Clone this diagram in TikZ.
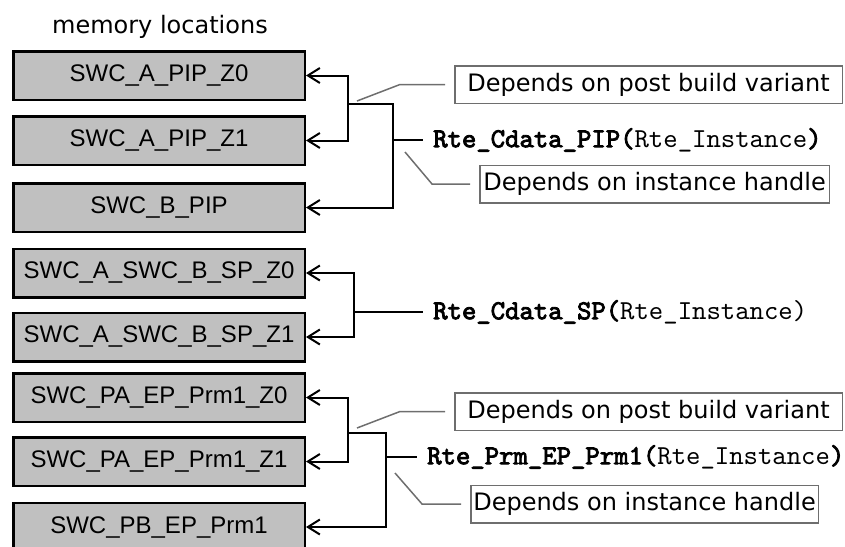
\documentclass[tikz,border=0pt]{standalone}
\usepackage{fontspec}
\setmainfont{Liberation Sans}
\newfontfamily\verd{DejaVu Sans}
\newfontfamily\cmono{lmmono10-regular.otf}
\newfontfamily\cmonobf{lmmono10-regular.otf}[FakeBold=3]
\usetikzlibrary{arrows.meta}
\definecolor{memgray}{RGB}{192,192,192}
\definecolor{notegray}{RGB}{110,110,110}
\begin{document}
\begin{tikzpicture}[x=1pt,y=-1pt,
  mem/.style={draw=black, line width=2.5pt, fill=memgray, minimum width=291.5pt, minimum height=48.5pt, inner sep=0pt, font=\fontsize{24}{28}\selectfont},
  conn/.style={line width=2pt, line cap=rect},
  arr/.style={line width=2pt, -{Straight Barb[length=12pt,width=15pt]}},
  note/.style={draw=notegray, line width=1.5pt, minimum height=37.5pt, inner sep=0pt, font=\verd\fontsize{24}{28}\selectfont},
  callout/.style={draw=notegray, line width=1.5pt, shorten >=9pt},
  code/.style={anchor=west, inner xsep=11pt, inner ysep=0pt, font=\cmono\fontsize{27.4}{30}\selectfont}
]
\useasboundingbox (0,0) rectangle (845,546);
\clip (0,0) rectangle (845,546);

% title
\node[font=\verd\fontsize{24}{28}\selectfont, anchor=base, inner sep=0pt] (title) at (160,33) {memory locations};

% memory boxes
\node[mem] (b1) at (159,75.5) {SWC\_A\_PIP\_Z0};
\node[mem] (b2) at (159,140.5) {SWC\_A\_PIP\_Z1};
\node[mem] (b3) at (159,207.5) {SWC\_B\_PIP};
\node[mem] (b4) at (159,273) {SWC\_A\_SWC\_B\_SP\_Z0};
\node[mem] (b5) at (159,337) {SWC\_A\_SWC\_B\_SP\_Z1};
\node[mem] (b6) at (159,397.5) {SWC\_PA\_EP\_Prm1\_Z0};
\node[mem] (b7) at (159,461.5) {SWC\_PA\_EP\_Prm1\_Z1};
\node[mem] (b8) at (159,527) {SWC\_PB\_EP\_Prm1};

% function calls
\node[code] (f1) at (422,140) {{\cmonobf Rte\_Cdata\_PIP(}Rte\_Instance{\cmonobf )}};
\node[code] (f2) at (422,312) {{\cmonobf Rte\_Cdata\_SP(}Rte\_Instance)};
\node[code] (f3) at (416,457) {{\cmonobf Rte\_Prm\_EP\_Prm1(}Rte\_Instance{\cmonobf )}};

% notes
\node[note, minimum width=387.5pt] (n1a) at (648.5,84.5) {Depends on post build variant};
\node[note, minimum width=349.5pt] (n1b) at (654.5,184) {Depends on instance handle};
\node[note, minimum width=387.5pt] (n3a) at (648.5,411.5) {Depends on post build variant};
\node[note, minimum width=347.5pt] (n3b) at (644.5,504) {Depends on instance handle};

% junction coordinates
\coordinate (d1) at (348,104);
\coordinate (c1) at (393,104);
\coordinate (d2) at (354,312);
\coordinate (d3) at (348,433);
\coordinate (c3) at (386,433);

% group 1
\draw[conn] (d1) -- (c1);
\draw[conn] (c1 |- f1.west) -- (f1.west);
\draw[arr] (d1) |- (b1);
\draw[arr] (d1) |- (b2);
\draw[arr] (c1) |- (b3);

% group 2
\draw[conn] (d2) -- (f2.west);
\draw[arr] (d2) |- (b4);
\draw[arr] (d2) |- (b5);

% group 3
\draw[conn] (d3) -- (c3);
\draw[conn] (c3 |- f3.west) -- (f3.west);
\draw[arr] (d3) |- (b6);
\draw[arr] (d3) |- (b7);
\draw[arr] (c3) |- (b8);

% callout lines
\coordinate (g1a) at (357,101);
\coordinate (g1b) at (400,84.5);
\coordinate (g1c) at (405,152);
\coordinate (g1d) at (432,184);
\coordinate (g3a) at (357,428);
\coordinate (g3b) at (400,411.5);
\coordinate (g3c) at (395,473);
\coordinate (g3d) at (422,504);
\draw[callout] (g1a) -- (g1b) -- (n1a.west);
\draw[callout] (g1c) -- (g1d) -- (n1b.west);
\draw[callout] (g3a) -- (g3b) -- (n3a.west);
\draw[callout] (g3c) -- (g3d) -- (n3b.west);
\end{tikzpicture}
\end{document}
